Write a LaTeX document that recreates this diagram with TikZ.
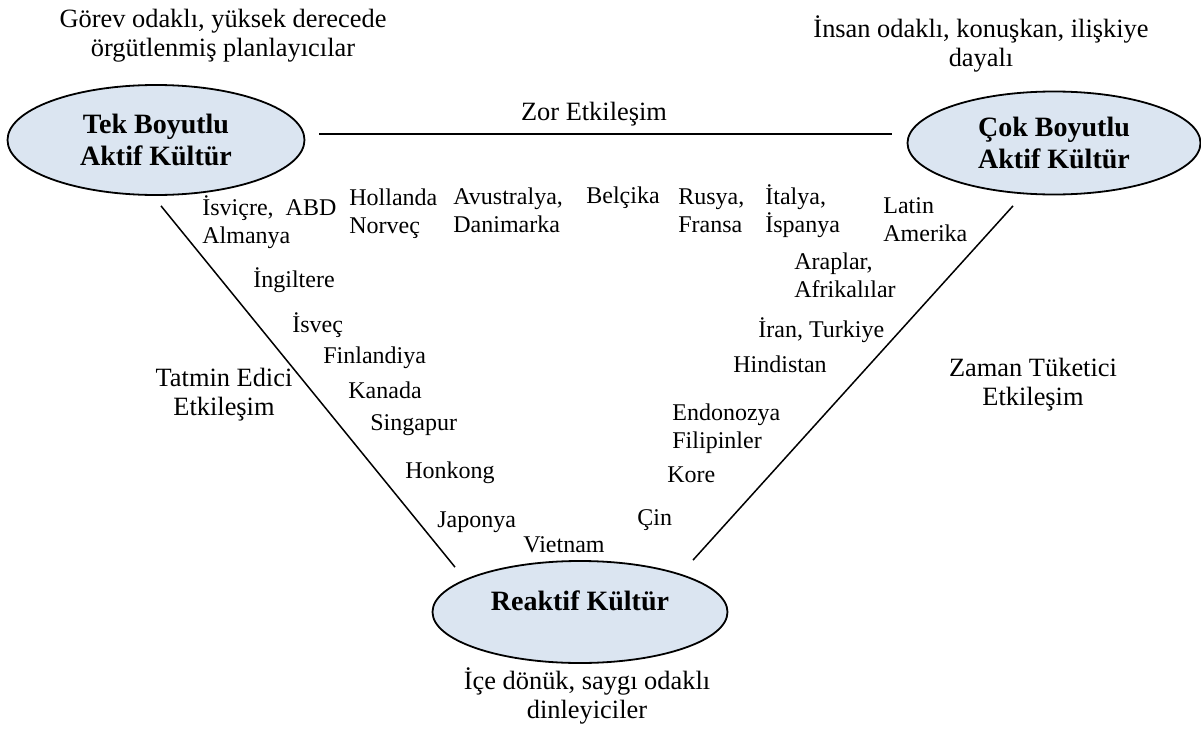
\documentclass[tikz,border=0pt]{standalone}
\usepackage{fontspec}
\setmainfont{Liberation Serif}
\usepackage{tikz}
\usetikzlibrary{positioning,shapes.geometric}
\definecolor{paleblue}{RGB}{219,229,241}
\tikzset{
  culture/.style={ellipse, draw=black, line width=0.9pt, fill=paleblue,
    inner sep=0pt, align=center, font=\bfseries\fontsize{14pt}{16.1pt}\selectfont},
  country/.style={inner sep=0pt, anchor=base west, align=left,
    font=\fontsize{12pt}{13.8pt}\selectfont},
  note/.style={inner sep=0pt, anchor=base, align=center,
    font=\fontsize{13.2pt}{14.3pt}\selectfont},
  link/.style={line width=0.75pt}
}
\begin{document}
\begin{tikzpicture}[x=0.5pt, y=-0.5pt]
\useasboundingbox (0,0) rectangle (1201,744);
% cultures
\node[culture, minimum width=148.5pt, minimum height=55pt] (tek) at (156,140) {Tek Boyutlu\\Aktif Kültür};
\node[culture, minimum width=146.5pt, minimum height=51.5pt] (cok) at (1054,143) {Çok Boyutlu\\Aktif Kültür};
\node[culture, minimum width=147.5pt, minimum height=51pt, text depth=11.6pt] (reak) at (580,612) {Reaktif Kültür};

% descriptions (base = last line)
\node[note] (gorev) at (223,56) {Görev odaklı, yüksek derecede\\örgütlenmiş planlayıcılar};
\node[note] (insan) at (981,66) {İnsan odaklı, konuşkan, ilişkiye\\dayalı};
\node[note] (ice) at (587,718) {İçe dönük, saygı odaklı\\dinleyiciler};
\node[note] (zor) at (594,120) {Zor Etkileşim};
\node[note] (tatmin) at (224,415) {Tatmin Edici\\Etkileşim};
\node[note] (zaman) at (1033,405) {Zaman Tüketici\\Etkileşim};

% countries
\node[country] (isvicre) at (202,243) {İsviçre,\ \ ABD\\Almanya};
\node[country] (hollanda) at (349,233) {Hollanda\\Norveç};
\node[country] (avustralya) at (453,232) {Avustralya,\\Danimarka};
\node[country] (belcika) at (586,203) {Belçika};
\node[country] (rusya) at (678,232) {Rusya,\\Fransa};
\node[country] (italya) at (765,232) {İtalya,\\İspanya};
\node[country] (latin) at (883,241) {Latin\\Amerika};
\node[country] (araplar) at (794,297) {Araplar,\\Afrikalılar};
\node[country] (iran) at (758,337) {İran, Turkiye};
\node[country] (hindistan) at (733,372) {Hindistan};
\node[country] (endonozya) at (672,448) {Endonozya\\Filipinler};
\node[country] (kore) at (667,482) {Kore};
\node[country] (cin) at (637,525) {Çin};
\node[country] (vietnam) at (523,552) {Vietnam};
\node[country] (japonya) at (437,527) {Japonya};
\node[country] (honkong) at (405,478) {Honkong};
\node[country] (singapur) at (370,430) {Singapur};
\node[country] (kanada) at (348,398) {Kanada};
\node[country] (finlandiya) at (323,363) {Finlandiya};
\node[country] (isvec) at (292,332) {İsveç};
\node[country] (ingiltere) at (253,287) {İngiltere};

% links
\draw[link] ([shift={(14,-6)}]tek.east) -- ([shift={(-14.5,-9)}]cok.west);
\draw[link] ([shift={(5,10)}]tek.south) -- ([shift={(-125,7)}]reak.north);
\draw[link] ([shift={(-41,10.5)}]cok.south) -- ([shift={(113,0)}]reak.north);
\end{tikzpicture}
\end{document}
